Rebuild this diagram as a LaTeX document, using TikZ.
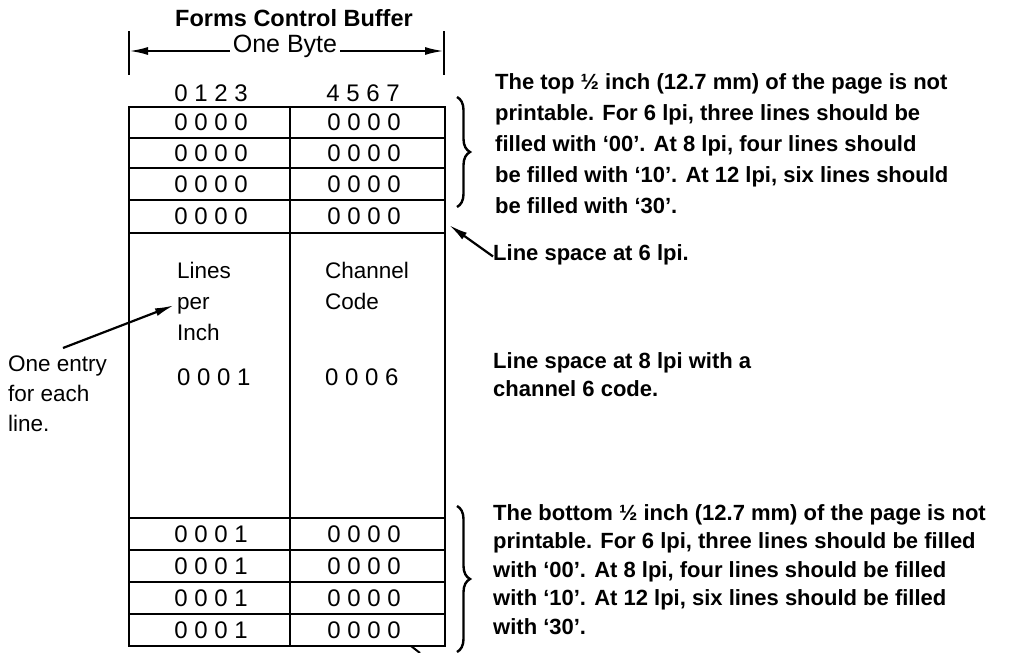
\documentclass[tikz,border=0pt]{standalone}
\usepackage{fontspec}
\setmainfont{Liberation Sans}
\usetikzlibrary{arrows.meta,decorations.pathreplacing,positioning}

\tikzset{
  note/.style={font=\bfseries\fontsize{22}{31}\selectfont, align=left, anchor=north west, inner sep=0pt},
  txt/.style={font=\fontsize{22.5}{30}\selectfont, align=left, anchor=base west, inner sep=0pt},
  cell/.style={font=\fontsize{24}{26}\selectfont, inner sep=1pt},
  arr/.style={-{Latex[length=19pt,width=8pt]}, line width=2.2pt},
  tblline/.style={line width=2.8pt},
  brc/.style={decorate, decoration={brace, amplitude=13pt}, line width=2.4pt}
}

\begin{document}
\begin{tikzpicture}[x=1pt, y=-1pt]
  \useasboundingbox (0,0) rectangle (1013,653);

  % heading and byte width
  \node[font=\bfseries\fontsize{23.5}{26}\selectfont] (title) at (294,18) {Forms Control Buffer};
  \node[font=\fontsize{25}{26}\selectfont, inner sep=3pt] (byte) at (285,46) {One Byte};
  \coordinate (bl) at (129,51);
  \coordinate (br) at (444,51);
  \draw[line width=2.4pt] (129,31) -- (129,75);
  \draw[line width=2.4pt] (444,31) -- (444,75);
  \draw[arr] (byte.west |- bl) -- (bl);
  \draw[arr] (byte.east |- br) -- (br);
  \node[cell] (bitsa) at (211,93) {0 1 2 3};
  \node[cell] (bitsb) at (363,93) {4 5 6 7};

  % the buffer
  \draw[tblline] (129,107) rectangle (445,646);
  \draw[tblline] (290,107) -- (290,646);
  \foreach \y in {138,168,200,233,518,550,582,614}
    \draw[tblline] (129,\y) -- (445,\y);

  \foreach \i/\y in {1/122.5, 2/153, 3/184, 4/216.5} {
    \node[cell] (topa\i) at (211,\y) {0 0 0 0};
    \node[cell] (topb\i) at (364,\y) {0 0 0 0};
  }
  \foreach \i/\y in {1/534, 2/566, 3/598, 4/630} {
    \node[cell] (bota\i) at (211,\y) {0 0 0 1};
    \node[cell] (botb\i) at (364,\y) {0 0 0 0};
  }

  \node[txt] (lines) at (177,278) {Lines};
  \node[txt, inner sep=3pt] (per) at (174,309) {per};
  \node[txt] (inch) at (177,340) {Inch};
  \node[txt, font=\fontsize{24}{30}\selectfont] (lpival) at (177,385) {0 0 0 1};
  \node[txt] (chan) at (325,278) {Channel};
  \node[txt] (code) at (325,309) {Code};
  \node[txt, font=\fontsize{24}{30}\selectfont] (chanval) at (325,385) {0 0 0 6};

  % left remark
  \node[txt, anchor=north west] (entry) at (8,356) {One entry\\for each\\line.};
  \coordinate (entrytail) at (63,348);
  \draw[arr] (entrytail) -- (per.west);

  % right remarks
  \draw[brc] (457,97) -- (457,207);
  \node[note] (topnote) at (495,73) {The top ½ inch (12.7 mm) of the page is not\\
    printable.  For 6 lpi, three lines should be\\
    filled with `00'.  At 8 lpi, four lines should\\
    be filled with `10'.  At 12 lpi, six lines should\\
    be filled with `30'.};
  \node[note] (ls6) at (493,244) {Line space at 6 lpi.};
  \coordinate (ls6tip) at (449,225);
  \draw[arr] ([yshift=-2pt]ls6.west) -- (ls6tip);
  \node[note, font=\bfseries\fontsize{22}{28}\selectfont] (ls8) at (493,352) {Line space at 8 lpi with a\\channel 6 code.};

  \draw[brc] (457,506) -- (457,652);
  \node[note, font=\bfseries\fontsize{22}{28.5}\selectfont] (botnote) at (493,504) {The bottom ½ inch (12.7 mm) of the page is not\\
    printable.  For 6 lpi, three lines should be filled\\
    with `00'.  At 8 lpi, four lines should be filled\\
    with `10'.  At 12 lpi, six lines should be filled\\
    with `30'.};
  \draw[line width=2pt] (411,646) -- (420,653);
\end{tikzpicture}
\end{document}
